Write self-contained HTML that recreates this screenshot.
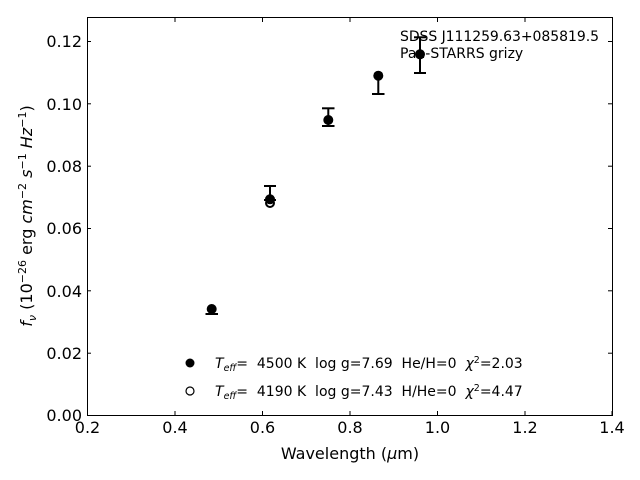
<!DOCTYPE html>
<html><head><style>body{margin:0;background:#fff}svg{display:block}text{font-family:"DejaVu Sans","Liberation Sans",sans-serif;white-space:pre}</style></head><body>
<svg width="640" height="480" viewBox="0 0 640 480" xmlns="http://www.w3.org/2000/svg">
<rect width="640" height="480" fill="#fff"/>
<rect x="87.5" y="17.5" width="525" height="398" fill="none" stroke="#000" stroke-width="1"/>
<g stroke="#000" stroke-width="1">
<line x1="87.5" y1="415" x2="87.5" y2="411"/><line x1="175" y1="415" x2="175" y2="411"/><line x1="262.5" y1="415" x2="262.5" y2="411"/><line x1="350" y1="415" x2="350" y2="411"/><line x1="437.5" y1="415" x2="437.5" y2="411"/><line x1="525" y1="415" x2="525" y2="411"/><line x1="612" y1="415" x2="612" y2="411"/>
<line x1="175" y1="18" x2="175" y2="22"/><line x1="262.5" y1="18" x2="262.5" y2="22"/><line x1="350" y1="18" x2="350" y2="22"/><line x1="437.5" y1="18" x2="437.5" y2="22"/><line x1="525" y1="18" x2="525" y2="22"/>
</g>
<g stroke="#000" stroke-width="1">
<line x1="87" y1="415.5" x2="91" y2="415.5"/><line x1="87" y1="353.2" x2="91" y2="353.2"/><line x1="87" y1="290.8" x2="91" y2="290.8"/><line x1="87" y1="228.5" x2="91" y2="228.5"/><line x1="87" y1="166.2" x2="91" y2="166.2"/><line x1="87" y1="103.8" x2="91" y2="103.8"/><line x1="87" y1="41.5" x2="91" y2="41.5"/>
<line x1="612" y1="353.2" x2="608" y2="353.2"/><line x1="612" y1="290.8" x2="608" y2="290.8"/><line x1="612" y1="228.5" x2="608" y2="228.5"/><line x1="612" y1="166.2" x2="608" y2="166.2"/><line x1="612" y1="103.8" x2="608" y2="103.8"/><line x1="612" y1="41.5" x2="608" y2="41.5"/>
</g>
<g font-size="16" text-anchor="middle" fill="#000">
<text x="87.5" y="433">0.2</text><text x="175" y="433">0.4</text><text x="262.5" y="433">0.6</text><text x="350" y="433">0.8</text><text x="437.5" y="433">1.0</text><text x="525" y="433">1.2</text><text x="612" y="433">1.4</text>
</g>
<g font-size="16" text-anchor="end" fill="#000">
<text x="82" y="421">0.00</text><text x="82" y="359">0.02</text><text x="82" y="297">0.04</text><text x="82" y="234">0.06</text><text x="82" y="172">0.08</text><text x="82" y="110">0.10</text><text x="82" y="47">0.12</text>
</g>
<text x="350" y="459" font-size="16" text-anchor="middle">Wavelength (<tspan font-style="italic">μ</tspan>m)</text>
<text transform="translate(32,216) rotate(-90)" font-size="16" text-anchor="middle"><tspan font-style="italic">f</tspan><tspan font-style="italic" font-size="11" dy="4">ν</tspan><tspan dy="-4"> (10</tspan><tspan font-size="11" dy="-6">−26</tspan><tspan dy="6"> erg </tspan><tspan font-style="italic">cm</tspan><tspan font-size="11" dy="-6">−2</tspan><tspan dy="6"> </tspan><tspan font-style="italic">s</tspan><tspan font-size="11" dy="-6">−1</tspan><tspan dy="6"> </tspan><tspan font-style="italic">Hz</tspan><tspan font-size="11" dy="-6">−1</tspan><tspan dy="6">)</tspan></text>
<text x="400" y="41" font-size="14" textLength="199">SDSS J111259.63+085819.5</text>
<text x="400" y="58" font-size="14">Pan-STARRS grizy</text>
<g stroke="#000" stroke-width="2" fill="none">
<circle cx="270" cy="203" r="4"/>
<line x1="211.7" y1="308" x2="211.7" y2="314"/><line x1="205.5" y1="314" x2="218" y2="314"/>
<line x1="270" y1="186" x2="270" y2="200"/><line x1="264" y1="186" x2="276" y2="186"/><line x1="264" y1="200" x2="276" y2="200"/>
<line x1="328.3" y1="108.3" x2="328.3" y2="126"/><line x1="322" y1="108.3" x2="334.5" y2="108.3"/><line x1="322" y1="126" x2="334.5" y2="126"/>
<line x1="378.3" y1="75" x2="378.3" y2="94"/><line x1="372" y1="94" x2="384.5" y2="94"/>
<line x1="420" y1="37.3" x2="420" y2="73"/><line x1="414" y1="37.3" x2="426" y2="37.3"/><line x1="414" y1="73" x2="426" y2="73"/>
</g>
<g fill="#000">
<circle cx="211.7" cy="309" r="5"/><circle cx="270" cy="199.3" r="5"/><circle cx="328.3" cy="120" r="5"/><circle cx="378.3" cy="75.7" r="5"/><circle cx="420" cy="54.3" r="5"/>
</g>
<circle cx="190" cy="363" r="4.5" fill="#000"/>
<circle cx="190" cy="391" r="4" fill="none" stroke="#000" stroke-width="1.2"/>
<text x="215" y="368" font-size="14"><tspan font-style="italic">T</tspan><tspan font-style="italic" font-size="9.5" dy="3">eff</tspan><tspan dy="-3">=  4500 K  log g=7.69  He/H=0  </tspan><tspan font-style="italic">χ</tspan><tspan font-size="9.5" dy="-5">2</tspan><tspan dy="5">=2.03</tspan></text>
<text x="215" y="396" font-size="14"><tspan font-style="italic">T</tspan><tspan font-style="italic" font-size="9.5" dy="3">eff</tspan><tspan dy="-3">=  4190 K  log g=7.43  H/He=0  </tspan><tspan font-style="italic">χ</tspan><tspan font-size="9.5" dy="-5">2</tspan><tspan dy="5">=4.47</tspan></text>
</svg>
</body></html>
